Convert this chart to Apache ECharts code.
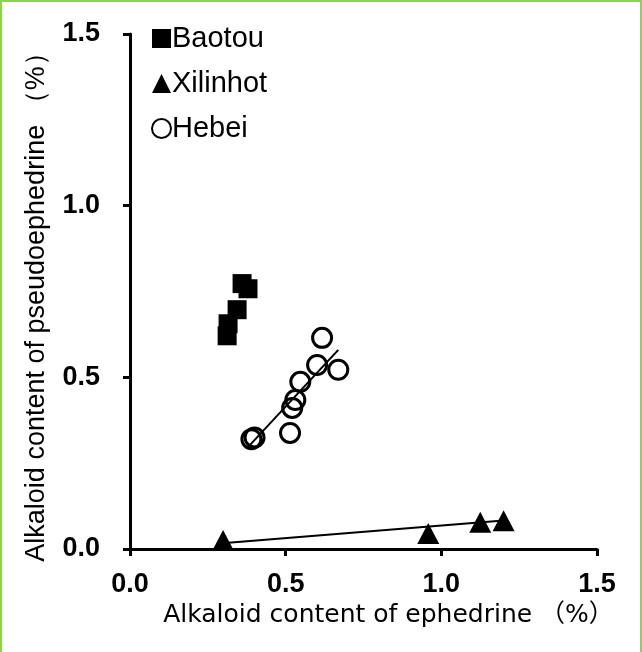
<!DOCTYPE html>
<html>
<head>
<meta charset="utf-8">
<script src="https://cdn.jsdelivr.net/npm/echarts@6/dist/echarts.min.js"></script>
<style>
  html, body { margin: 0; padding: 0; background: #fff; }
  #wrap { position: relative; width: 642px; height: 652px; }
  #chart { width: 642px; height: 652px; }
  #frame {
    position: absolute; left: 0; top: 0; width: 638px; height: 652px;
    border-top: 2px solid #92d050; border-left: 2px solid #92d050; border-right: 2px solid #92d050;
    pointer-events: none;
  }
</style>
</head>
<body>
<div id="wrap">
  <div id="chart"></div>
  <div id="frame"></div>
</div>
<script>
// ephedrine (x) vs pseudoephedrine (y), %
const baotou = [
  [0.36, 0.773], [0.379, 0.758], [0.344, 0.697], [0.315, 0.656], [0.312, 0.621]
];
const xilinhot = [
  [0.299, 0.025], [0.958, 0.045], [1.125, 0.078], [1.2, 0.082]
];
const hebei = [
  [0.617, 0.615], [0.601, 0.536], [0.669, 0.522], [0.547, 0.487],
  [0.531, 0.434], [0.521, 0.411], [0.514, 0.338], [0.39, 0.32], [0.40, 0.325]
];
// trend lines, end points
const hebeiFit = [[0.376, 0.294], [0.669, 0.58]];
const xilinhotFit = [[0.296, 0.017], [1.19, 0.082]];

const axisTicks = { min: 0, max: 1.5, interval: 0.5 };
const tickFont = { color: '#000', fontSize: 27, fontWeight: 'bold', fontFamily: 'Liberation Sans, Arial, sans-serif' };

const chart = echarts.init(document.getElementById('chart'));

chart.setOption({
  animation: false,
  backgroundColor: '#fff',
  grid: { left: 130, right: 45, top: 34, bottom: 103 },
  legend: {
    data: [
      { name: 'Baotou', icon: 'rect' },
      { name: 'Xilinhot', icon: 'triangle' },
      { name: 'Hebei', icon: 'circle' }
    ],
    orient: 'vertical',
    left: 146,
    top: 19,
    itemWidth: 19,
    itemHeight: 19,
    itemGap: 16,
    textStyle: { color: '#000', fontSize: 29, fontFamily: 'Liberation Sans, Arial, sans-serif', padding: [0, 0, 0, -4] }
  },
  xAxis: {
    type: 'value',
    ...axisTicks,
    name: 'Alkaloid content of ephedrine （%）',
    nameLocation: 'middle',
    nameGap: 49,
    nameTextStyle: { color: '#000', fontSize: 25, fontFamily: 'DejaVu Sans, Noto Sans CJK JP, sans-serif', padding: [0, 0, 0, 50] },
    splitLine: { show: false },
    axisLine: { lineStyle: { color: '#000', width: 3 } },
    axisTick: { inside: false, length: 7, lineStyle: { color: '#000', width: 3 } },
    axisLabel: { ...tickFont, margin: 22, formatter: v => v.toFixed(1) }
  },
  yAxis: {
    type: 'value',
    ...axisTicks,
    name: 'Alkaloid content of pseudoephedrine （%）',
    nameLocation: 'middle',
    nameGap: 80,
    nameTextStyle: { color: '#000', fontSize: 27, fontFamily: 'Liberation Sans, Arial, sans-serif', padding: [0, 18, 0, 0] },
    splitLine: { show: false },
    axisLine: { lineStyle: { color: '#000', width: 3 } },
    axisTick: { inside: false, length: 7, lineStyle: { color: '#000', width: 3 } },
    axisLabel: { ...tickFont, margin: 30, formatter: v => v.toFixed(1) }
  },
  series: [
    {
      name: 'HebeiFit',
      type: 'line',
      data: hebeiFit,
      showSymbol: false,
      lineStyle: { color: '#000', width: 2 },
      silent: true
    },
    {
      name: 'XilinhotFit',
      type: 'line',
      data: xilinhotFit,
      showSymbol: false,
      lineStyle: { color: '#000', width: 2 },
      silent: true
    },
    {
      name: 'Baotou',
      type: 'scatter',
      data: baotou,
      symbol: 'rect',
      symbolSize: 19,
      itemStyle: { color: '#000', opacity: 1 }
    },
    {
      name: 'Xilinhot',
      type: 'scatter',
      data: xilinhot,
      symbol: 'triangle',
      symbolSize: [22, 21],
      itemStyle: { color: '#000', opacity: 1 }
    },
    {
      name: 'Hebei',
      type: 'scatter',
      data: hebei,
      symbol: 'circle',
      symbolSize: 19,
      itemStyle: { color: 'rgba(255,255,255,0)', borderColor: '#000', borderWidth: 3, opacity: 1 }
    }
  ]
});
</script>
</body>
</html>
